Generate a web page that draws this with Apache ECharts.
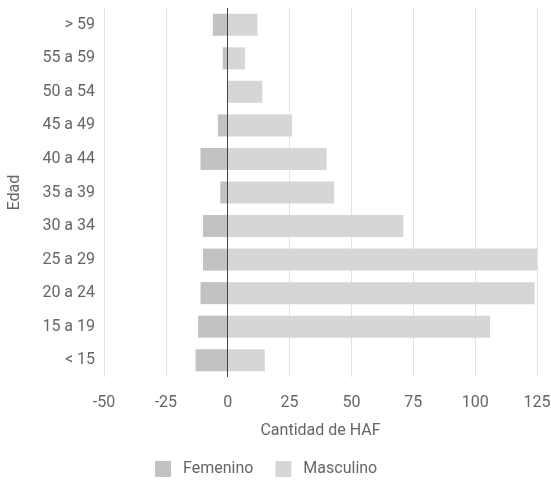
<!DOCTYPE html>
<html>
<head>
<meta charset="utf-8">
<script src="https://cdn.jsdelivr.net/npm/echarts@6/dist/echarts.min.js"></script>
<style>
html,body{margin:0;padding:0;background:#fff;}
#chart{width:551px;height:487px;}
</style>
</head>
<body>
<div id="chart"></div>
<script>
const categories = ['< 15','15 a 19','20 a 24','25 a 29','30 a 34','35 a 39','40 a 44','45 a 49','50 a 54','55 a 59','> 59'];
const femenino = [-13, -12, -11, -10, -10, -3, -11, -4, 0, -2, -6];
const masculino = [15, 106, 124, 125, 71, 43, 40, 26, 14, 7, 12];
const xTicks = { min: -50, max: 125, interval: 25 };

const font = 'Roboto';
const textColor = '#666';
const chart = echarts.init(document.getElementById('chart'));
chart.setOption({
  animation: false,
  textStyle: { fontFamily: font },
  grid: { left: 104, right: 14, top: 8, bottom: 110, containLabel: false, outerBoundsMode: 'none' },
  legend: {
    left: 150, bottom: 5,
    itemWidth: 16, itemHeight: 16, itemGap: 22,
    icon: 'rect',
    textStyle: { fontFamily: font, fontSize: 16, color: textColor, padding: [0, 0, 0, 7] },
    data: ['Femenino', 'Masculino']
  },
  xAxis: {
    type: 'value',
    min: xTicks.min, max: xTicks.max, interval: xTicks.interval,
    name: 'Cantidad de HAF',
    nameLocation: 'middle',
    nameGap: 46,
    nameTextStyle: { fontFamily: font, fontSize: 16, color: textColor },
    axisLine: { show: false },
    axisTick: { show: false },
    axisLabel: { fontFamily: font, fontSize: 16, color: textColor, margin: 18 },
    splitLine: { show: true, lineStyle: { color: '#e3e3e3', width: 1 } }
  },
  yAxis: {
    type: 'category',
    data: categories,
    name: 'Edad',
    nameLocation: 'middle',
    nameGap: 81,
    nameTextStyle: { fontFamily: font, fontSize: 16, color: textColor },
    axisLine: { show: false, onZero: false },
    axisTick: { show: false },
    axisLabel: { fontFamily: font, fontSize: 16, color: textColor, margin: 9 },
    splitLine: { show: false }
  },
  series: [
    {
      name: 'Femenino', type: 'bar', stack: 'total', data: femenino,
      barWidth: 22,
      itemStyle: { color: '#c2c2c2' },
      markLine: {
        silent: true, symbol: 'none', label: { show: false },
        lineStyle: { color: '#444', width: 1, type: 'solid' },
        data: [{ xAxis: 0 }],
        z: 10
      }
    },
    {
      name: 'Masculino', type: 'bar', stack: 'total', data: masculino,
      barWidth: 22,
      itemStyle: { color: '#d6d6d6' }
    }
  ]
});
</script>
</body>
</html>
